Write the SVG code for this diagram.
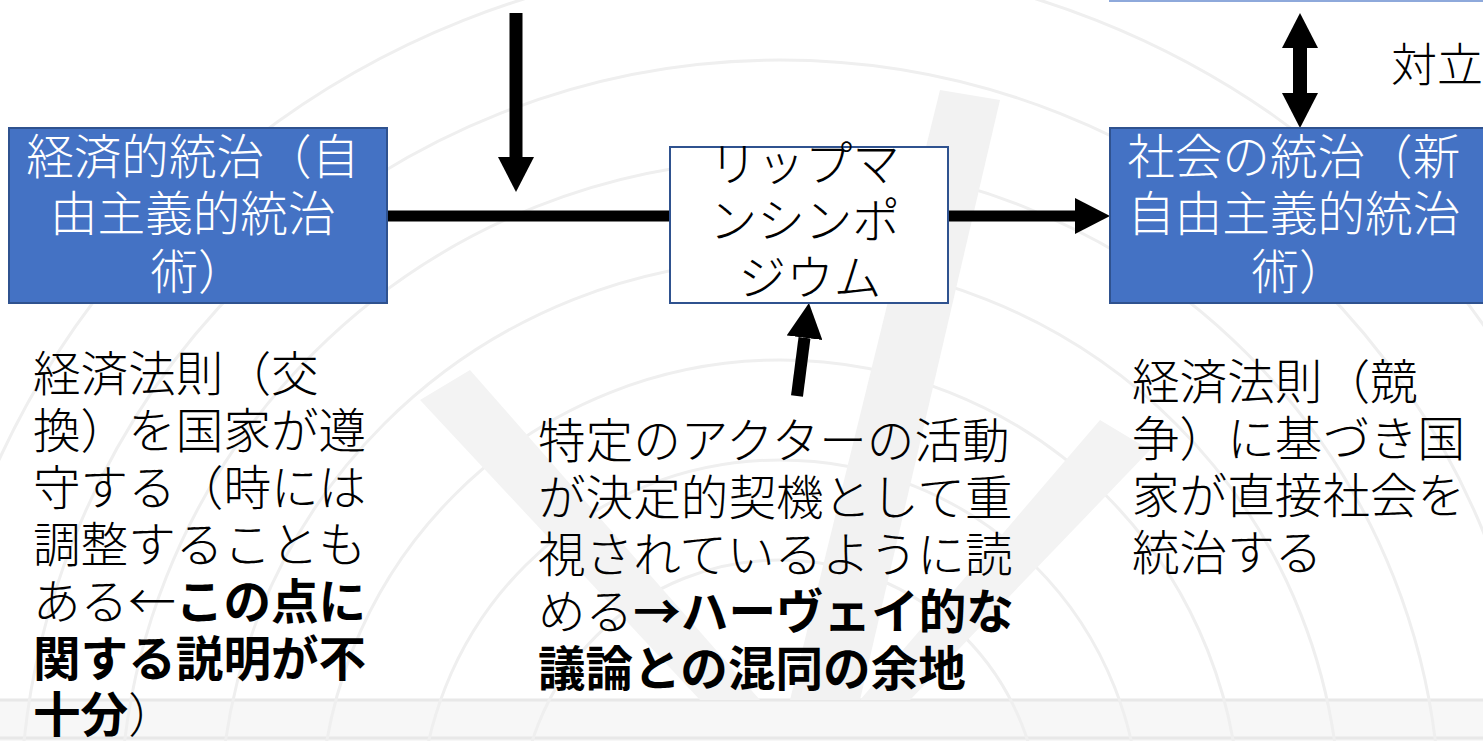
<svg xmlns="http://www.w3.org/2000/svg" width="1483" height="741" viewBox="0 0 1483 741">
  <style>
    .t { font-family: "Noto Sans CJK JP", "Noto Sans CJK SC", sans-serif; font-size: 47.6px; font-weight: 300; }
    .w { fill: #ffffff; }
    .k { fill: #000000; }
    .b { font-weight: 700; }
    .blue { fill: #4472C4; stroke: #2F528F; stroke-width: 2; }
    .white { fill: #ffffff; stroke: #2F528F; stroke-width: 2; }
    .conn { stroke: #000000; fill: none; }
    .wm { stroke: #efefef; stroke-width: 3; fill: none; }
  </style>
  <defs>
    <marker id="head" viewBox="0 0 35 36" refX="0" refY="18" markerWidth="35" markerHeight="36" markerUnits="userSpaceOnUse" orient="auto-start-reverse">
      <path d="M0,0 L35,18 L0,36 Z" fill="#000000"/>
    </marker>
  </defs>

  <rect x="0" y="0" width="1483" height="741" fill="#ffffff"/>
  <g id="watermark">
    <rect x="0" y="700" width="1483" height="41" fill="#f7f7f7"/>
    <line x1="0" y1="700" x2="1483" y2="700" stroke="#e8e8e8" stroke-width="3"/>
    <line x1="0" y1="738" x2="1483" y2="738" stroke="#e8e8e8" stroke-width="3"/>
    <circle class="wm" cx="780" cy="820" r="260"/>
    <circle class="wm" cx="780" cy="820" r="360"/>
    <circle class="wm" cx="780" cy="820" r="460"/>
    <circle class="wm" cx="780" cy="820" r="560"/>
    <circle class="wm" cx="780" cy="820" r="660"/>
    <circle class="wm" cx="780" cy="820" r="760"/>
    <circle class="wm" cx="780" cy="820" r="860"/>
    <path d="M790,700 L940,90 L1000,100 L860,700 Z" fill="#f2f2f2"/>
    <path d="M700,700 L420,400 L470,370 L760,700 Z" fill="#f3f3f3"/>
    <path d="M860,700 L1100,420 L1150,450 L910,700 Z" fill="#f3f3f3"/>
  </g>

  <g id="connectors">
    <line class="conn" x1="516" y1="13" x2="516" y2="157" stroke-width="13" marker-end="url(#head)"/>
    <line class="conn" x1="387" y1="216" x2="670" y2="216" stroke-width="11"/>
    <line class="conn" x1="948" y1="216" x2="1075" y2="216" stroke-width="11" marker-end="url(#head)"/>
    <line class="conn" x1="797" y1="396" x2="804.5" y2="337.7" stroke-width="12" marker-end="url(#head)"/>
    <line class="conn" x1="1300" y1="48" x2="1300" y2="93" stroke-width="14" marker-start="url(#head)" marker-end="url(#head)"/>
  </g>

  <g id="node-top-box">
    <rect x="1110" y="-100" width="378" height="101" fill="#ffffff" stroke="#8EA9DB" stroke-width="2"/>
  </g>

  <g id="node-keizai">
    <rect class="blue" x="9" y="128" width="378" height="175"/>
    <text class="t w" text-anchor="middle">
      <tspan x="198" y="174">経済的統治（自</tspan>
      <tspan x="198" y="231">由主義的統治</tspan>
      <tspan x="198" y="289">術）</tspan>
    </text>
  </g>

  <g id="node-lippmann">
    <rect class="white" x="670" y="147" width="278" height="156"/>
    <text class="t k" text-anchor="middle">
      <tspan x="810" y="181">リップマ</tspan>
      <tspan x="810" y="238">ンシンポ</tspan>
      <tspan x="810" y="295">ジウム</tspan>
    </text>
  </g>

  <g id="node-shakai">
    <rect class="blue" x="1110" y="128" width="378" height="175"/>
    <text class="t w" text-anchor="middle">
      <tspan x="1299" y="174">社会の統治（新</tspan>
      <tspan x="1299" y="231">自由主義的統治</tspan>
      <tspan x="1299" y="289">術）</tspan>
    </text>
  </g>

  <g id="label-tairitsu">
    <text class="t k" x="1391" y="81" style="font-size:46px">対立</text>
  </g>

  <g id="note-left">
    <text class="t k">
      <tspan x="33" y="391">経済法則（交</tspan>
      <tspan x="33" y="448">換）を国家が遵</tspan>
      <tspan x="33" y="505">守する（時には</tspan>
      <tspan x="33" y="562">調整することも</tspan>
      <tspan x="33" y="619">ある←<tspan class="b">この点に</tspan></tspan>
      <tspan x="33" y="676" class="b">関する説明が不</tspan>
      <tspan x="33" y="732"><tspan class="b">十分</tspan>）</tspan>
    </text>
  </g>

  <g id="note-middle">
    <text class="t k">
      <tspan x="538" y="458">特定のアクターの活動</tspan>
      <tspan x="538" y="515">が決定的契機として重</tspan>
      <tspan x="538" y="572">視されているように読</tspan>
      <tspan x="538" y="629">める<tspan class="b">→ハーヴェイ的な</tspan></tspan>
      <tspan x="538" y="686" class="b">議論との混同の余地</tspan>
    </text>
  </g>

  <g id="note-right">
    <text class="t k">
      <tspan x="1132" y="399">経済法則（競</tspan>
      <tspan x="1132" y="456">争）に基づき国</tspan>
      <tspan x="1132" y="513">家が直接社会を</tspan>
      <tspan x="1132" y="570">統治する</tspan>
    </text>
  </g>
</svg>
